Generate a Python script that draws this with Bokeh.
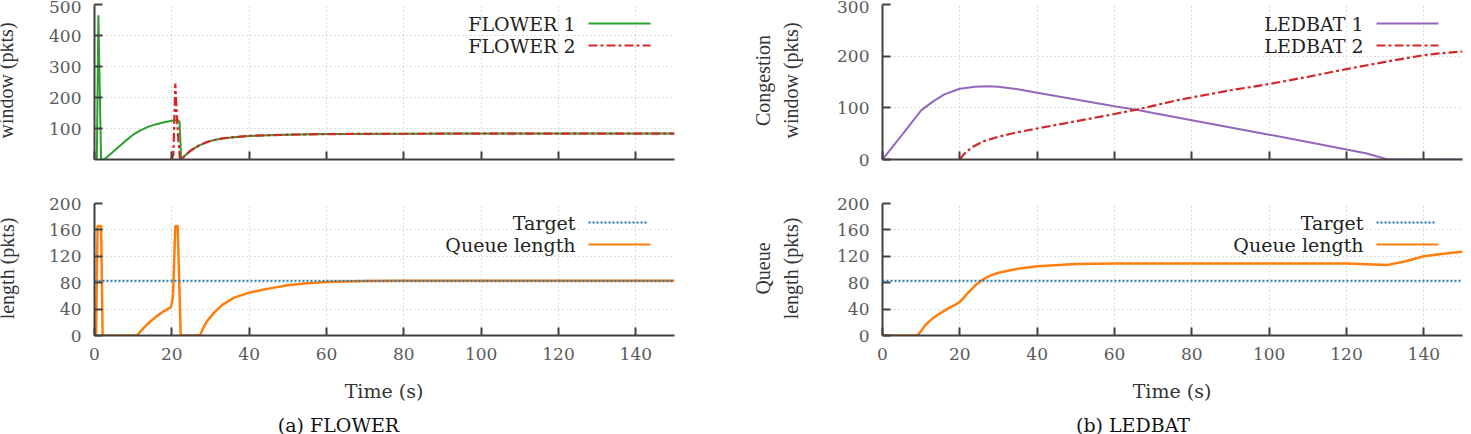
from math import pi
from bokeh.plotting import figure
from bokeh.layouts import row, column
from bokeh.models import Range1d, FixedTicker, CustomJSTickFormatter, Label, Arrow, Span
from bokeh.embed import file_html
from bokeh.resources import INLINE

# ---------------- data ----------------
x_ticks = [0, 20, 40, 60, 80, 100, 120, 140]
cwnd_ticks_flower = [100, 200, 300, 400, 500]
cwnd_ticks_ledbat = [0, 100, 200, 300]
queue_ticks = [0, 40, 80, 120, 160, 200]
target_queue = 83

flower1_t = [0.0, 0.6, 1.0, 1.7, 2.5, 4.0, 6.0, 8.0, 10.0, 12.0, 14.0, 16.0, 18.0, 20.0, 21.5, 22.0, 22.4,
             23.5, 25.0, 27.0, 29.0, 31.0, 33.0, 36.0, 40.0, 45.0, 50.0, 60.0, 80.0, 100.0, 120.0, 150.0]
flower1_cwnd = [0, 0, 465, 0, 0, 16, 38, 60, 80, 95, 106, 114, 120, 125, 127, 122, 0,
                14, 30, 45, 56, 63, 68, 72, 76, 78.5, 80, 82, 83, 83.5, 83.5, 83.5]

flower2_t = [19.9, 20.4, 20.9, 21.3, 21.7, 22.1, 22.4,
             23.5, 25.0, 27.0, 29.0, 31.0, 33.0, 36.0, 40.0, 45.0, 50.0, 60.0, 80.0, 100.0, 120.0, 150.0]
flower2_cwnd = [0, 15, 245, 140, 60, 0, 0,
                14, 30, 45, 56, 63, 68, 72, 76, 78.5, 80, 82, 83, 83.5, 83.5, 83.5]

flower_q_t = [0.0, 0.4, 0.8, 1.7, 2.1, 11.0, 12.0, 14.0, 16.0, 18.0, 19.8, 20.3, 20.9, 21.5, 22.3,
              27.3, 28.0, 29.0, 31.0, 33.0, 36.0, 40.0, 45.0, 50.0, 55.0, 60.0, 70.0, 80.0, 100.0, 150.0]
flower_q_len = [0, 0, 166, 166, 0, 0, 7, 19, 29, 37, 43, 60, 166, 166, 0,
                0, 10, 21, 35, 46, 57, 65, 71, 76, 79, 81, 82.5, 83, 83, 83]

ledbat1_t = [0, 5, 10, 13, 16, 20, 24, 27, 30, 35, 40, 50, 60, 66, 70, 80, 90, 100, 110, 120, 125, 130.7, 150]
ledbat1_cwnd = [0, 47, 95, 112, 126, 137, 141, 142, 141, 136, 129, 116, 103, 96, 90, 76, 62, 48, 34, 19.5, 12, 0, 0]

ledbat2_t = [20, 21, 23, 26, 30, 35, 40, 50, 60, 66, 77, 90, 100, 110, 120, 130, 140, 145, 150]
ledbat2_cwnd = [0, 10, 23, 35, 44, 53, 60, 74, 88, 97, 116, 134, 146, 160, 175, 189, 202, 206, 209]

ledbat_q_t = [0, 9, 10, 11, 12, 13, 15, 17, 19, 20, 21, 22, 24, 26, 28, 30, 35, 40, 50, 60, 80, 100, 120,
              130.7, 135, 140, 145, 150]
ledbat_q_len = [0, 0, 7, 15, 21, 26, 34, 41, 47, 51, 57, 64, 76, 85, 91, 95, 101, 105, 108.5, 109, 109, 109, 109,
                107, 112, 120, 124, 127]

# ---------------- styling ----------------
GREEN = "#2ca02c"
RED = "#d62728"
PURPLE = "#9467bd"
ORANGE = "#ff7f0e"
BLUE = "#1f77b4"
TICK_FONT = "DejaVu Serif"
SERIF = "DejaVu Serif"
VSERIF = "Liberation Serif"
DASHDOT = "9 3 3 3"


def make_fig(width, height, bl, br, bt, bb, y_end, y_ticks, x_labels):
    p = figure(width=width, height=height, x_range=Range1d(0, 150), y_range=Range1d(0, y_end),
               output_backend="svg", toolbar_location=None,
               min_border_left=bl, min_border_right=br, min_border_top=bt, min_border_bottom=bb)
    p.outline_line_color = None
    p.border_fill_color = "white"
    p.background_fill_color = "white"
    p.xaxis.ticker = FixedTicker(ticks=x_ticks)
    p.yaxis.ticker = FixedTicker(ticks=y_ticks)
    for ax in list(p.xaxis) + list(p.yaxis):
        ax.axis_line_color = "#404040"
        ax.axis_line_width = 2
        ax.major_tick_line_color = "#404040"
        ax.major_tick_line_width = 2
        ax.major_tick_in = 8
        ax.major_tick_out = 0
        ax.minor_tick_line_color = None
        ax.major_label_text_font = TICK_FONT
        ax.major_label_text_font_size = "17px"
        ax.major_label_text_color = "#5a5a5a"
    p.yaxis.major_label_standoff = 13
    p.xaxis.major_label_standoff = 12
    if not x_labels:
        p.xaxis.formatter = CustomJSTickFormatter(code="return ''")
    for g in list(p.xgrid) + list(p.ygrid):
        g.grid_line_color = "#bbbbbb"
        g.grid_line_dash = "1 3"
        g.grid_line_width = 1
    return p


def strip(width, height):
    s = figure(width=width, height=height, x_range=Range1d(0, 1), y_range=Range1d(0, 1),
               x_axis_type=None, y_axis_type=None, output_backend="svg", toolbar_location=None,
               min_border_left=0, min_border_right=0, min_border_top=0, min_border_bottom=0)
    s.outline_line_color = None
    s.border_fill_color = "white"
    s.background_fill_color = "white"
    return s


def add_text(p, text, x, y, font=SERIF, size=19, color="#222222", align="center", angle=0):
    p.add_layout(Label(x=x, y=y, x_units="screen", y_units="screen", text=text,
                       text_font=font, text_font_size=f"{size}px", text_color=color,
                       text_align=align, text_baseline="middle", angle=angle))


def add_sample(p, y, color, dash="solid", x0=494, x1=556):
    p.add_layout(Arrow(start=None, end=None, x_start=x0, y_start=y, x_end=x1, y_end=y,
                       start_units="screen", end_units="screen",
                       line_color=color, line_width=2, line_dash=dash))


def legend(p, entries, y_top, y_step=22):
    for i, (name, color, dash, x1) in enumerate(entries):
        y = y_top - i * y_step
        add_text(p, name, 481, y, align="right")
        add_sample(p, y, color, dash, 494, x1)


# ---------------- FLOWER cwnd ----------------
p1 = make_fig(695, 180, 54, 61, 4, 21, 500, cwnd_ticks_flower, False)
p1.line(flower1_t, flower1_cwnd, line_color=GREEN, line_width=2)
p1.line(flower2_t, flower2_cwnd, line_color=RED, line_width=2.2, line_dash=DASHDOT)
legend(p1, [("FLOWER 1", GREEN, "solid", 556), ("FLOWER 2", RED, DASHDOT, 556)], 136)
s1 = strip(40, 180)
add_text(s1, "window (pkts)", 5, 79, font=VSERIF, size=20, color="#333333", angle=pi / 2)

# ---------------- FLOWER queue ----------------
p2 = make_fig(695, 190, 54, 61, 23, 35, 200, queue_ticks, True)
p2.add_layout(Span(location=target_queue, dimension="width", line_color=BLUE, line_width=2, line_dash="2 2"))
p2.line(flower_q_t, flower_q_len, line_color=ORANGE, line_width=2.5)
legend(p2, [("Target", BLUE, "2 2", 552), ("Queue length", ORANGE, "solid", 556)], 113)
s2 = strip(40, 190)
add_text(s2, "length (pkts)", 6, 67, font=VSERIF, size=20, color="#333333", angle=pi / 2)

c1 = strip(735, 64)
add_text(c1, "Time (s)", 383.5, 44, size=19, color="#333333")
add_text(c1, "(a) FLOWER", 338, 10, size=19, color="#111111")

# ---------------- LEDBAT cwnd ----------------
p3 = make_fig(651, 180, 62, 9, 4, 21, 300, cwnd_ticks_ledbat, False)
p3.line(ledbat1_t, ledbat1_cwnd, line_color=PURPLE, line_width=2)
p3.line(ledbat2_t, ledbat2_cwnd, line_color=RED, line_width=2.2, line_dash=DASHDOT)
legend(p3, [("LEDBAT 1", PURPLE, "solid", 556), ("LEDBAT 2", RED, DASHDOT, 556)], 136)
s3 = strip(85, 180)
add_text(s3, "Congestion", 27, 79, font=VSERIF, size=20, color="#333333", angle=pi / 2)
add_text(s3, "window (pkts)", 55, 79, font=VSERIF, size=20, color="#333333", angle=pi / 2)

# ---------------- LEDBAT queue ----------------
p4 = make_fig(651, 190, 62, 9, 23, 35, 200, queue_ticks, True)
p4.add_layout(Span(location=target_queue, dimension="width", line_color=BLUE, line_width=2, line_dash="2 2"))
p4.line(ledbat_q_t, ledbat_q_len, line_color=ORANGE, line_width=2.5)
legend(p4, [("Target", BLUE, "2 2", 552), ("Queue length", ORANGE, "solid", 556)], 113)
s4 = strip(85, 190)
add_text(s4, "Queue", 27, 67, font=VSERIF, size=20, color="#333333", angle=pi / 2)
add_text(s4, "length (pkts)", 55, 67, font=VSERIF, size=20, color="#333333", angle=pi / 2)

c2 = strip(736, 64)
add_text(c2, "Time (s)", 436.5, 44, size=19, color="#333333")
add_text(c2, "(b) LEDBAT", 397.5, 10, size=19, color="#111111")

left = column(row(s1, p1), row(s2, p2), c1)
right = column(row(s3, p3), row(s4, p4), c2)
layout = row(left, right)
open("out.html", "w").write(file_html(layout, INLINE))
